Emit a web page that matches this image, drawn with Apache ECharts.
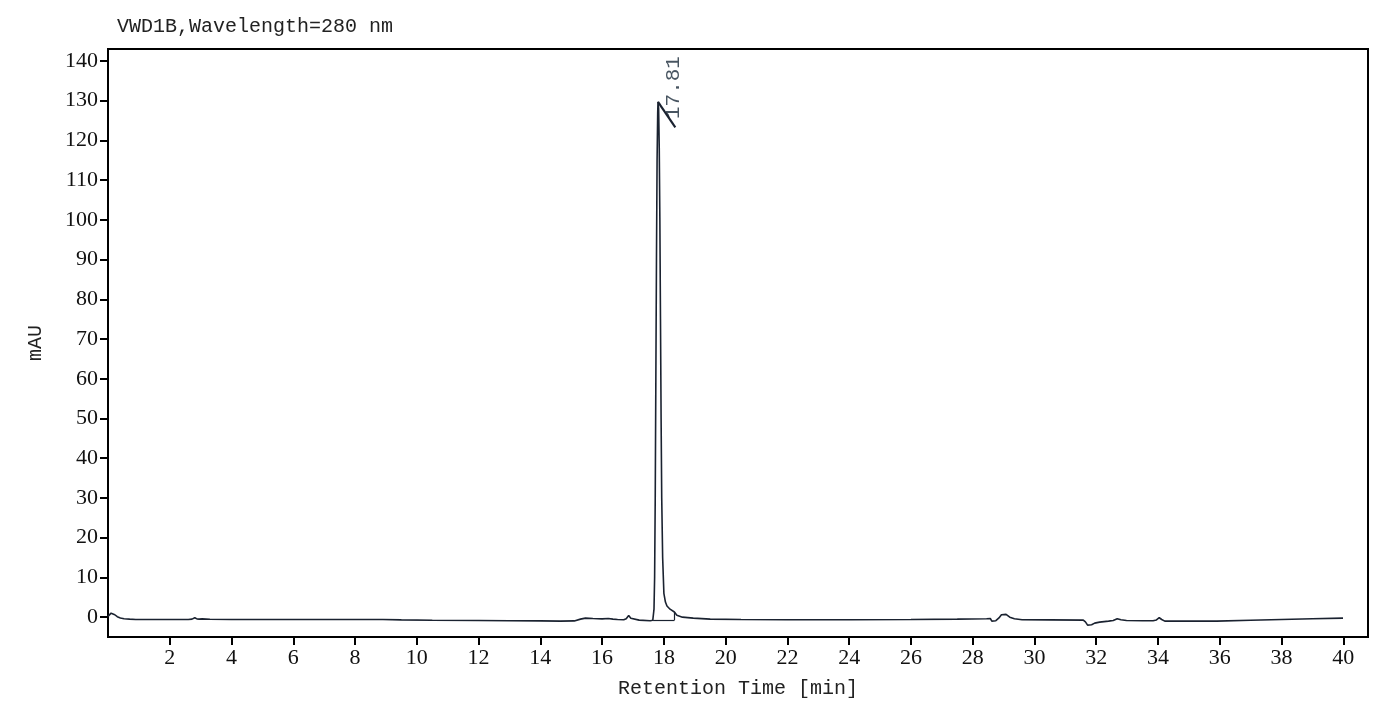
<!DOCTYPE html>
<html>
<head>
<meta charset="utf-8">
<script src="https://cdn.jsdelivr.net/npm/echarts@6/dist/echarts.min.js"></script>
<style>
html,body{margin:0;padding:0;background:#fff;}
#chart{width:1382px;height:704px;}
</style>
</head>
<body>
<div id="chart"></div>
<script>
// Retention times (min) and detector signal (mAU)
var times = [
  0, 0.05, 0.1, 0.15, 0.22, 0.3, 0.4, 0.52, 0.7, 0.9, 1.5, 2.0, 2.6, 2.72, 2.81, 2.88, 2.95, 3.05, 3.3,
  4, 5, 6, 7, 8, 8.9, 9.5, 10.5, 12, 13, 14, 14.65, 15.1, 15.3, 15.46, 15.7, 16.0, 16.2, 16.35, 16.5,
  16.7, 16.78, 16.86, 16.93, 16.97, 17.2, 17.56, 17.64,
  17.66, 17.68, 17.70, 17.72, 17.74, 17.76, 17.78, 17.80, 17.81, 17.83, 17.85, 17.87, 17.89, 17.91, 17.93, 17.96,
  18.0, 18.05, 18.1, 18.2, 18.34, 18.42, 18.6, 18.95, 19.5, 20.5, 22, 24, 26, 27.5, 28.45, 28.57, 28.6, 28.62,
  28.67, 28.75, 28.85, 28.93, 28.99, 29.08, 29.2, 29.35, 29.6, 30.5, 31.58, 31.65, 31.72, 31.77, 31.85, 31.95,
  32.11, 32.4, 32.55, 32.68, 32.8, 32.98, 33.5, 33.84, 33.95, 34.04, 34.12, 34.22, 35, 35.9, 37, 38, 39, 39.99
];
var signal = [
  0.2, 0.7, 1.0, 1.1, 0.6, 0.1, -0.2, -0.4, -0.5, -0.6, -0.6, -0.6, -0.6, -0.5, -0.15, -0.45, -0.5, -0.45, -0.55,
  -0.6, -0.6, -0.6, -0.6, -0.6, -0.6, -0.7, -0.8, -0.85, -0.9, -0.95, -1.0, -0.95, -0.5, -0.25, -0.35, -0.45, -0.35, -0.5, -0.6,
  -0.65, -0.4, 0.4, -0.3, -0.6, -0.75, -0.9, -0.8,
  -0.5, 2, 10, 30, 60, 90, 115, 127, 129.7, 128, 118, 100, 75, 50, 30, 15,
  6, 3.8, 2.8, 2.0, 1.3, 0.5, 0.0, -0.25, -0.5, -0.6, -0.65, -0.65, -0.6, -0.5, -0.4, -0.35, 0.1, -1.0,
  -1.4, -0.9, -0.2, 0.6, 1.1, 0.7, 0.0, -0.4, -0.65, -0.7, -0.75, -1.2, -2.0, -2.5, -1.9, -1.5,
  -1.25, -1.0, -0.85, -0.4, -0.65, -0.85, -0.9, -0.9, -0.7, -0.15, -0.6, -1.0, -1.0, -1.0, -0.8, -0.6, -0.4, -0.25
];

// Axis ticks
var xTicks = [2, 4, 6, 8, 10, 12, 14, 16, 18, 20, 22, 24, 26, 28, 30, 32, 34, 36, 38, 40];
var yTicks = [0, 10, 20, 30, 40, 50, 60, 70, 80, 90, 100, 110, 120, 130, 140];

// Peak annotation
var peakTimes = [17.81];
var peakHeights = [129.7];
var peakLabels = ['17.81'];
// integration window of the peak (min) and its baseline level (mAU)
var peakStart = [17.65];
var peakEnd = [18.34];
var peakEndSignal = [1.3];
var peakBaseline = [-0.8];

var titleText = 'VWD1B,Wavelength=280 nm';
var xName = 'Retention Time [min]';
var yName = 'mAU';

var lineData = times.map(function (t, i) { return [t, signal[i]]; });

// marker tick: short diagonal starting at apex (in data units)
var tickDx = 0.56, tickDy = -6.4;
// label center relative to the apex (in data units)
var labDx = 0.49, labDy = 3.6;

var serif = '"Liberation Serif", "DejaVu Serif", serif';
var mono = '"Liberation Mono", "DejaVu Sans Mono", monospace';
var ink = '#1a2230';

var chart = echarts.init(document.getElementById('chart'), null, {renderer: 'canvas'});
chart.setOption({
  animation: false,
  backgroundColor: '#ffffff',
  title: {
    text: titleText,
    left: 112,
    top: 12,
    textStyle: {fontFamily: mono, fontSize: 20, fontWeight: 'normal', color: '#222'}
  },
  grid: {
    left: 108, right: 14, top: 49, bottom: 67,
    show: true, borderColor: '#000', borderWidth: 2, backgroundColor: 'transparent'
  },
  xAxis: {
    type: 'value',
    min: 0, max: 40.8,
    name: xName,
    nameLocation: 'middle',
    nameGap: 42,
    nameTextStyle: {fontFamily: mono, fontSize: 20, color: '#222'},
    axisLine: {show: true, onZero: false, lineStyle: {color: '#000', width: 2}},
    axisTick: {show: true, inside: false, length: 8, lineStyle: {color: '#000', width: 2}, customValues: xTicks},
    axisLabel: {fontFamily: serif, fontSize: 22, color: '#111', margin: 10, customValues: xTicks},
    splitLine: {show: false}
  },
  yAxis: {
    type: 'value',
    min: -5, max: 143,
    name: yName,
    nameLocation: 'middle',
    nameGap: 62,
    nameRotate: 90,
    nameTextStyle: {fontFamily: mono, fontSize: 20, color: '#222'},
    axisLine: {show: true, onZero: false, lineStyle: {color: '#000', width: 2}},
    axisTick: {show: true, inside: false, length: 8, lineStyle: {color: '#000', width: 2}, customValues: yTicks},
    axisLabel: {fontFamily: serif, fontSize: 22, color: '#111', margin: 10, customValues: yTicks},
    splitLine: {show: false}
  },
  series: [
    {
      type: 'line',
      data: lineData,
      showSymbol: false,
      symbol: 'none',
      lineStyle: {color: ink, width: 1.6},
      silent: true,
      z: 3
    },
    {
      type: 'scatter',
      symbolSize: 0,
      silent: true,
      data: peakTimes.map(function (t, i) { return [t + labDx, peakHeights[i] + labDy]; }),
      label: {
        show: true,
        position: 'inside',
        rotate: 90,
        formatter: function (p) { return peakLabels[p.dataIndex]; },
        fontFamily: mono,
        fontSize: 21,
        color: '#1a2a3a'
      },
      markLine: {
        silent: true,
        symbol: ['none', 'none'],
        label: {show: false},
        data: [].concat(
          peakTimes.map(function (t, i) {
            return [{coord: [t, peakHeights[i]], lineStyle: {color: ink, width: 2.2, type: 'solid'}},
                    {coord: [t + tickDx, peakHeights[i] + tickDy]}];
          }),
          peakTimes.map(function (t, i) {
            return [{coord: [peakEnd[i], peakBaseline[i]], lineStyle: {color: ink, width: 1.2, type: 'solid'}},
                    {coord: [peakEnd[i], peakEndSignal[i]]}];
          }),
          peakTimes.map(function (t, i) {
            return [{coord: [peakStart[i], peakBaseline[i]], lineStyle: {color: ink, width: 1.2, type: 'solid'}},
                    {coord: [peakEnd[i], peakBaseline[i]]}];
          })
        )
      }
    }
  ]
});
</script>
</body>
</html>
